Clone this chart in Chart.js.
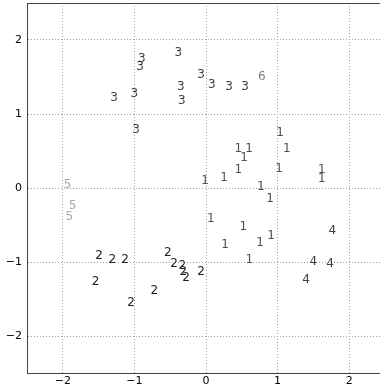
<!DOCTYPE html>
<html>
<head>
<meta charset="utf-8">
<script src="https://cdn.jsdelivr.net/npm/chart.js@4/dist/chart.umd.min.js"></script>
<style>
  html, body { margin: 0; padding: 0; background: #fff; }
  #wrap { width: 380px; height: 387px; }
</style>
</head>
<body>
<div id="wrap"><canvas id="c"></canvas></div>
<script>
// label groups: each point is drawn as its digit
const labels = ['1', '2', '3', '4', '5', '6'];
const labelColors = ['#505050', '#1c1c1c', '#404040', '#404040', '#a8a8a8', '#808080'];

const pts1 = [
    [0.451, 0.533], [0.601, 0.533], [0.531, 0.406], [1.127, 0.533], [1.034, 0.744],
    [0.451, 0.240], [1.020, 0.263], [0.251, 0.135], [-0.014, 0.091], [1.616, 0.240],
    [1.616, 0.127], [0.764, 0.014], [0.894, -0.143], [0.066, -0.414], [0.521, -0.528],
    [0.265, -0.766], [0.754, -0.744], [0.908, -0.650], [0.605, -0.978]
];
const pts2 = [
    [-0.535, -0.874], [-0.447, -1.032], [-0.331, -1.046], [-0.317, -1.137], [-0.279, -1.212],
    [-0.070, -1.137], [-1.494, -0.911], [-1.309, -0.969], [-1.131, -0.969], [-1.541, -1.272],
    [-1.047, -1.556], [-0.722, -1.384]
];
const pts3 = [
    [-0.898, 1.751], [-0.922, 1.637], [-0.387, 1.832], [-1.285, 1.223], [-1.001, 1.277],
    [-0.353, 1.367], [-0.339, 1.177], [-0.978, 0.790], [-0.070, 1.525], [0.080, 1.390],
    [0.321, 1.367], [0.545, 1.367]
];
const pts4 = [[1.764, -0.586], [1.499, -1.001], [1.732, -1.023], [1.397, -1.240]];
const pts5 = [[-1.932, 0.037], [-1.862, -0.248], [-1.909, -0.392]];
const pts6 = [[0.778, 1.502]];

const xTicks = [-2, -1, 0, 1, 2];
const yTicks = [-2, -1, 0, 1, 2];

const groups = [pts1, pts2, pts3, pts4, pts5, pts6];

const datasets = groups.map(function(g, i) {
    return {
        label: labels[i],
        data: g.map(function(p) { return { x: p[0], y: p[1] }; }),
        pointRadius: 0,
        pointHoverRadius: 0,
        textColor: labelColors[i]
    };
});

// draw each point as its label text
const textPoints = {
    id: 'textPoints',
    afterDatasetsDraw: function(chart) {
        const ctx = chart.ctx;
        ctx.save();
        ctx.font = '12px "DejaVu Sans"';
        ctx.textAlign = 'center';
        ctx.textBaseline = 'middle';
        chart.data.datasets.forEach(function(ds, i) {
            const meta = chart.getDatasetMeta(i);
            ctx.fillStyle = ds.textColor;
            meta.data.forEach(function(el) {
                ctx.fillText(ds.label, el.x, el.y);
            });
        });
        ctx.restore();
    }
};

// top spine
const frame = {
    id: 'frame',
    afterDraw: function(chart) {
        const a = chart.chartArea;
        const ctx = chart.ctx;
        ctx.save();
        ctx.strokeStyle = '#444';
        ctx.lineWidth = 1;
        ctx.beginPath();
        ctx.moveTo(a.left, a.top + 0.5);
        ctx.lineTo(a.right, a.top + 0.5);
        ctx.stroke();
        ctx.restore();
    }
};

const minusFmt = function(v) { return String(v).replace('-', '\u2212'); };

new Chart(document.getElementById('c'), {
    type: 'scatter',
    data: { datasets: datasets },
    options: {
        responsive: true,
        maintainAspectRatio: false,
        animation: false,
        layout: { padding: { top: 3, right: 0, left: 0, bottom: 0 } },
        plugins: {
            legend: { display: false },
            tooltip: { enabled: false }
        },
        scales: {
            x: {
                min: -2.5,
                max: 2.43,
                afterBuildTicks: function(s) { s.ticks = xTicks.map(function(v) { return { value: v }; }); },
                afterFit: function(s) { s.height = 14; s.paddingLeft = 0; s.paddingRight = 0; },
                grid: { color: '#a0a0a0', drawTicks: false },
                border: { display: true, color: '#444', width: 1, dash: [1, 2] },
                ticks: {
                    padding: 2,
                    color: '#000',
                    font: { family: 'DejaVu Sans', size: 11 },
                    callback: minusFmt
                }
            },
            y: {
                min: -2.5,
                max: 2.5,
                afterBuildTicks: function(s) { s.ticks = yTicks.map(function(v) { return { value: v }; }); },
                afterFit: function(s) { s.width = 27; s.paddingTop = 0; s.paddingBottom = 0; },
                grid: { color: '#a0a0a0', drawTicks: false },
                border: { display: true, color: '#444', width: 1, dash: [1, 2] },
                ticks: {
                    padding: 5,
                    color: '#000',
                    font: { family: 'DejaVu Sans', size: 11 },
                    callback: minusFmt
                }
            }
        }
    },
    plugins: [textPoints, frame]
});
</script>
</body>
</html>
